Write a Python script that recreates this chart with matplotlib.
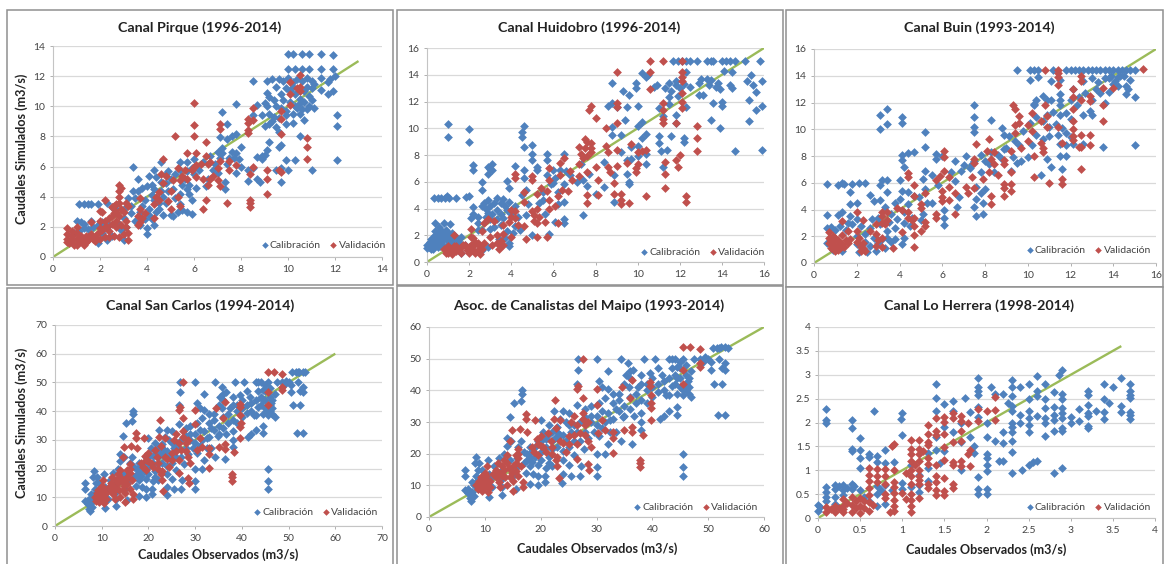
# -*- coding: utf-8 -*-
"""
Caudales observados vs simulados por canal
"""
import matplotlib
matplotlib.use('Agg')
from matplotlib import pyplot as plt
from matplotlib.patches import Rectangle

plt.rcParams['font.family'] = ['Lato', 'DejaVu Sans']

# =============================================================================
# DATA (obs, sim)
# =============================================================================
pirque_cal = [
    (10.0,13.5),(10.2,13.5),(10.6,13.5),(10.9,13.5),(11.4,13.5),(11.9,13.4),
    (10.0,12.5),(10.3,12.5),(10.6,12.5),(10.9,12.5),(11.4,12.5),(11.9,12.5),
    (8.5,11.7),(9.1,11.7),(9.3,11.8),(9.6,11.8),(9.8,11.7),(10.0,11.9),(10.2,11.6),(10.4,11.8),
    (10.6,11.7),(10.8,11.9),(11.0,11.7),(11.1,11.5),(11.4,11.9),(11.7,11.6),(11.8,11.8),(12.0,12.0),
    (11.4,11.1),(11.7,10.8),(11.9,11.0),(9.5,11.3),(9.7,10.8),(9.9,11.2),(10.1,11.0),(10.3,10.8),
    (10.5,10.5),(10.7,11.0),(10.9,10.7),(11.0,11.2),(10.1,10.3),(10.3,10.0),(10.5,10.2),(10.7,10.3),
    (10.9,10.0),(11.1,9.9),(10.8,9.8),(9.5,10.0),(9.7,9.9),(9.9,9.7),(9.1,10.0),(9.0,10.2),(9.2,10.6),
    (9.1,10.9),(8.7,10.1),(8.5,9.4),(8.9,9.4),(9.2,9.5),(9.4,9.3),(9.6,9.2),(9.9,9.4),(10.2,9.5),
    (10.5,9.5),(10.7,9.1),(12.1,9.4),(12.1,8.7),(12.1,6.45),(9.0,8.7),(9.2,8.8),(9.5,8.6),(9.6,8.3),
    (9.9,8.8),(10.2,8.9),(10.5,8.0),(9.2,7.6),(9.1,7.1),(9.0,6.8),(8.9,6.5),(9.6,7.3),(9.7,7.4),
    (9.9,6.45),(10.0,5.8),(10.3,6.45),(9.7,5.9),(9.5,5.8),(9.7,4.95),(11.0,5.8),(7.2,9.6),(7.8,10.15),
    (7.4,8.8),(7.1,7.95),(7.2,7.25),(7.4,7.8),(7.6,8.0),(7.8,8.15),(7.0,7.0),(7.2,6.9),(7.6,7.0),
    (7.8,6.9),(8.0,7.3),(7.7,6.6),(7.9,6.5),(7.4,6.2),(7.8,5.6),(8.3,5.05),(8.3,5.75),(8.5,5.9),
    (8.7,6.65),(8.9,6.7),(8.7,5.2),(8.8,4.95),(7.3,4.95),(7.3,4.5),(7.0,5.6),(6.8,5.8),(6.5,4.7),
    (6.0,6.5),(5.7,6.3),(5.4,6.3),(5.7,5.7),(6.0,5.5),(5.8,4.8),(6.1,4.6),(5.7,4.5),(5.5,4.8),(5.8,4.2),
    (5.9,3.8),(5.5,3.1),(5.3,3.0),(5.7,3.0),(5.9,2.85),(5.0,2.8),(5.1,2.7),(5.2,5.5),(4.9,5.7),(5.0,5.2),
    (4.8,4.9),(5.1,4.5),(4.6,6.3),(4.3,5.8),(4.1,5.35),(4.4,5.3),(4.6,5.0),(4.0,4.7),(4.3,4.5),(4.6,4.4),
    (3.4,6.0),(3.6,5.15),(3.6,4.4),(3.8,4.6),(3.5,3.9),(3.9,3.8),(4.2,4.1),(4.5,3.6),(4.8,3.6),(4.4,3.0),
    (4.7,2.8),(4.2,2.5),(4.3,2.1),(3.9,2.5),(4.0,1.9),(4.0,1.55),(3.7,2.1),(3.5,2.4),(3.3,2.9),(3.0,3.2),
    (3.2,3.9),(3.0,2.6),(2.7,3.2),(2.8,2.2),(3.1,2.0),(2.9,1.8),(3.0,1.1),(2.5,1.4),(2.3,1.15),(2.1,1.6),
    (1.9,0.95),(2.3,3.6),(2.5,3.3),(1.9,3.5),(1.1,3.5),(1.3,3.5),(1.5,3.5),(1.6,3.5),(1.0,2.4),(1.2,2.35),
    (1.3,2.2),(1.6,2.4),(1.3,1.9),(1.5,1.85),(1.7,2.0),(1.9,2.1),(2.1,2.3),(2.4,2.1),(1.1,1.7),(0.9,1.6),
    # zonas densas
    (10.2,11.3),(10.5,11.1),(10.8,11.3),(11.0,10.4),(10.4,9.9),(10.6,9.8),(9.4,10.4),(9.3,9.0),(9.8,10.4),
    (3.3,3.4),(3.7,3.0),(3.4,4.4),(3.8,3.4),(4.1,3.2),(4.3,3.8),(4.7,4.0),(4.9,4.4),(5.2,3.9),(5.4,4.2),
    (5.6,5.2),(5.9,5.9),(6.2,5.8),(6.4,6.3),(6.6,5.2),(6.9,6.2),(7.1,6.6),(6.7,6.7),(7.5,6.6),(8.0,6.0),
    (4.5,3.2),(4.1,2.8),(5.4,3.5),(4.2,4.8),(4.8,5.5),(5.4,5.8),
]
pirque_val = [
    (0.6,1.9),(0.6,1.5),(0.6,1.2),(0.6,1.0),(0.8,1.4),(0.8,1.1),(0.9,0.8),(1.0,2.0),(1.0,1.6),(1.0,1.2),
    (1.0,0.8),(1.2,1.4),(1.2,1.1),(1.3,0.8),(1.4,1.4),(1.5,1.1),(1.6,1.5),(1.6,2.3),(1.8,1.3),(1.8,1.05),
    (1.9,1.6),(2.0,2.4),(2.0,3.05),(2.1,1.8),(2.2,3.75),(2.1,3.0),(2.2,1.3),(2.3,2.0),(2.4,2.6),(2.4,1.7),
    (2.5,3.3),(2.5,2.2),(2.6,2.9),(2.6,1.4),(2.7,3.5),(2.7,2.4),(2.8,4.75),(2.8,4.4),(2.8,4.0),(2.8,3.6),
    (2.8,1.35),(2.9,4.6),(2.9,3.2),(2.9,2.1),(3.1,3.6),(3.1,2.0),(3.2,3.4),(3.2,1.6),(3.2,1.15),(3.7,3.9),
    (3.6,2.1),(3.7,3.2),(3.8,2.6),(3.9,2.9),(4.3,2.6),(4.3,3.5),(4.4,4.0),(4.5,4.3),(4.6,5.5),(4.7,6.5),
    (4.7,4.9),(4.8,5.4),(4.9,3.7),(5.0,4.4),(5.0,3.2),(5.2,8.05),(5.1,5.1),(5.3,5.9),(5.4,5.1),(5.4,3.4),
    (5.3,4.0),(5.6,5.8),(5.7,6.9),(5.7,5.2),(6.0,10.2),(6.0,8.75),(6.0,8.05),(6.1,6.9),(6.0,6.0),(6.3,6.2),
    (6.1,5.3),(6.4,5.2),(6.4,3.2),(6.5,7.6),(6.5,6.7),(6.5,3.75),(6.6,4.8),(6.7,6.3),(6.8,5.4),(7.0,5.9),
    (7.0,5.1),(7.1,8.85),(7.1,8.5),(7.1,6.4),(7.1,4.7),(7.4,3.55),(7.5,6.4),(7.5,5.8),(7.8,6.1),(8.3,8.9),
    (8.3,9.15),(8.3,8.4),(8.3,8.2),(8.4,5.5),(8.4,3.8),(8.4,3.55),(8.4,3.3),(8.5,9.9),(8.5,9.1),(8.5,6.0),
    (9.1,5.75),(9.1,5.2),(9.1,4.2),(9.6,5.8),(9.7,9.7),(9.7,9.15),(9.7,8.15),(9.7,5.65),(10.1,11.6),
    (10.1,10.8),(10.1,10.1),(10.4,11.2),(10.5,12.1),(10.5,11.3),(10.5,11.0),(10.8,7.9),(10.8,7.3),(10.8,6.5),
    # zonas densas
    (0.7,0.9),(1.1,1.0),(1.3,1.2),(1.5,1.3),(1.7,1.2),(2.0,1.2),(2.0,1.9),(2.2,2.4),(2.5,2.7),(2.6,3.4),
    (2.7,2.0),(2.7,3.0),(2.8,2.7),(3.0,3.0),(3.1,2.4),(2.4,1.3),(1.4,1.0),(0.8,1.7),(2.2,2.0),(3.0,1.5),
    (3.7,2.3),(3.6,2.7),(4.5,3.8),(5.5,5.4),(5.9,5.8),(6.1,6.1),(6.6,6.2),(6.7,5.2),
]
huidobro_cal = [
    (1.0,10.3),(1.0,9.35),(2.0,9.95),(2.0,9.0),(0.35,4.75),(0.5,4.75),(0.65,4.8),(0.85,4.75),(0.95,4.9),
    (1.05,4.8),(1.4,4.8),(1.85,4.85),(2.0,4.95),(0.4,2.9),(0.8,2.9),(1.1,2.85),(0.0,1.3),(0.0,1.05),(0.15,1.5),
    (0.2,1.0),(0.3,1.8),(0.3,1.3),(0.4,2.3),(0.45,1.6),(0.5,1.1),(0.55,2.6),(0.6,2.0),(0.65,1.5),(0.7,2.3),
    (0.8,1.8),(0.8,1.2),(0.9,2.1),(1.0,1.6),(1.0,2.2),(1.1,1.9),(1.2,2.2),(1.3,1.7),(1.5,1.5),(1.6,1.9),
    (1.6,0.7),(1.8,1.3),(2.2,7.25),(2.2,6.85),(2.6,6.0),(2.6,5.4),(2.9,7.1),(3.1,7.3),(3.0,6.95),(3.1,6.9),
    (2.9,6.55),(2.2,4.1),(2.2,3.6),(2.1,3.3),(2.4,3.4),(2.4,2.4),(2.7,4.4),(2.8,4.0),(2.9,4.6),(3.0,4.2),
    (3.1,3.6),(3.2,4.4),(3.3,4.8),(3.3,3.9),(3.5,4.4),(3.6,4.7),(3.7,4.2),(3.8,3.9),(3.9,5.5),(3.8,6.05),
    (3.9,4.5),(4.0,3.6),(4.2,4.2),(4.2,2.7),(4.1,2.2),(3.9,1.4),(3.9,1.2),(3.4,1.7),(3.0,2.5),(2.9,1.1),
    (2.6,0.9),(3.5,2.8),(4.2,7.2),(4.6,10.15),(4.5,9.7),(4.5,9.35),(4.6,8.6),(4.6,6.85),(4.6,6.3),(4.5,5.0),
    (4.7,5.4),(4.8,4.3),(4.7,3.5),(5.0,8.75),(5.0,8.1),(5.0,7.6),(5.2,7.1),(5.2,6.9),(5.0,2.0),(5.7,8.1),
    (5.7,7.6),(5.7,6.5),(5.9,5.8),(5.5,4.6),(5.6,3.6),(5.8,2.1),(6.0,6.9),(6.1,6.3),(6.2,4.3),(6.1,3.0),
    (6.3,6.9),(6.5,8.1),(6.5,5.8),(6.5,4.5),(6.5,3.2),(6.5,2.9),(6.6,6.8),(7.1,6.0),(7.3,7.3),(7.4,6.1),
    (7.4,3.55),(7.6,5.7),(7.7,6.6),(8.0,5.05),(8.4,7.5),(8.4,5.6),(8.8,13.4),(8.6,11.7),(8.8,11.9),(9.0,11.6),
    (8.8,10.1),(8.8,9.5),(8.9,6.5),(8.9,4.5),(9.2,9.5),(9.2,8.2),(9.3,12.8),(9.4,10.6),(9.5,7.6),(9.5,6.6),
    (9.6,12.5),(9.5,11.6),(9.7,8.6),(9.7,7.7),(9.6,6.0),(9.6,5.8),(10.0,10.2),(10.0,8.7),(10.0,7.9),(9.9,13.4),
    (9.9,13.0),(10.0,11.7),(10.2,14.1),(10.2,10.5),(10.2,9.3),(10.4,9.6),(10.4,8.1),(10.4,7.3),(10.5,14.0),
    (10.4,13.8),(10.9,13.2),(11.0,11.5),(10.8,13.1),(11.0,9.4),(11.0,8.9),(11.1,8.3),(11.2,10.9),(11.2,7.1),
    (11.3,13.0),(11.4,8.4),(11.5,11.8),(11.5,12.3),(11.5,13.4),(11.6,9.4),(11.7,15.0),(11.9,15.0),(12.1,15.0),
    (12.3,15.0),(12.5,15.0),(12.8,15.0),(13.3,15.0),(13.5,15.0),(13.6,15.0),(14.0,15.0),(14.2,15.0),(14.4,15.0),
    (14.6,15.0),(15.1,15.0),(15.8,15.0),(11.8,13.2),(11.9,12.4),(11.8,11.0),(11.8,10.4),(12.2,13.3),(12.3,14.2),
    (12.5,13.1),(12.3,11.6),(12.2,9.3),(12.2,9.0),(12.9,13.4),(13.0,13.7),(12.9,12.5),(13.1,12.5),(13.3,13.7),
    (13.5,13.6),(13.7,13.1),(13.6,11.9),(13.5,10.6),(13.9,10.0),(14.1,14.3),(13.9,12.9),(14.0,12.0),(14.0,11.7),
    (14.5,14.2),(14.4,13.2),(14.5,13.0),(14.6,8.3),(15.2,13.5),(15.3,12.1),(15.4,14.0),(15.3,10.55),(15.5,13.2),
    (15.6,12.7),(15.6,11.4),(15.9,13.5),(15.9,11.7),(15.9,8.4),
    # zonas densas
    (0.1,1.1),(0.2,1.4),(0.3,1.0),(0.4,1.3),(0.5,1.8),(0.6,1.2),(0.7,1.7),(0.8,2.2),(0.4,2.0),(1.0,1.3),(1.2,1.4),
    (1.4,1.9),(0.2,1.7),(0.5,2.2),(0.9,2.4),(1.1,1.6),(2.6,4.2),(2.8,3.4),(3.0,3.2),(3.2,2.6),(3.3,3.2),(3.5,3.6),
    (2.6,2.4),(2.4,2.9),(2.9,3.7),(3.6,3.3),(4.3,3.4),(4.4,2.4),(3.8,2.3),(3.7,1.8),(5.3,4.4),(5.5,5.2),(6.2,5.2),
    (6.0,5.9),(6.8,6.5),(11.8,13.5),(12.0,13.0),(11.6,12.8),(13.4,13.2),(13.8,13.4),
]
huidobro_val = [
    (0.8,1.0),(0.9,0.7),(1.0,1.2),(1.1,0.9),(1.2,0.6),(1.3,2.0),(1.3,1.2),(1.4,0.8),(1.6,1.1),(1.6,0.7),
    (1.8,1.3),(1.9,0.9),(2.1,2.5),(2.1,1.9),(2.1,1.3),(2.2,0.9),(2.3,1.5),(2.3,0.7),(2.5,1.2),(2.5,0.6),
    (2.6,2.3),(2.7,1.4),(2.7,2.9),(2.9,3.2),(3.0,1.9),(3.1,1.3),(3.2,3.05),(3.3,2.0),(3.4,1.0),(3.5,1.6),
    (3.6,2.1),(3.6,1.3),(3.6,2.8),(3.9,3.0),(4.0,3.9),(4.0,1.9),(4.2,3.8),(4.2,3.3),(4.2,6.6),(4.2,6.3),
    (4.6,5.2),(4.6,4.5),(4.6,2.7),(4.7,1.7),(5.0,6.4),(5.0,6.1),(5.1,3.5),(5.1,3.1),(5.2,5.1),(5.2,4.0),
    (5.2,2.9),(5.2,1.9),(5.4,5.5),(5.6,3.0),(5.7,1.9),(5.7,5.3),(5.8,7.0),(5.8,6.1),(5.8,4.6),(5.8,4.0),
    (6.1,4.2),(6.2,4.9),(6.2,2.95),(6.3,7.4),(6.3,6.5),(6.4,5.4),(6.5,7.8),(6.7,5.3),(6.8,6.8),(6.9,6.1),
    (7.2,8.6),(7.3,8.1),(7.2,7.3),(7.2,6.4),(7.5,9.2),(7.5,8.5),(7.6,9.0),(7.6,7.9),(7.6,6.7),(7.6,5.0),
    (7.6,4.4),(7.8,11.7),(7.7,11.4),(7.8,8.9),(7.8,8.2),(8.0,10.8),(8.0,7.1),(8.1,6.1),(8.1,5.0),(8.5,8.7),
    (8.5,10.0),(8.6,8.2),(8.6,7.1),(8.7,6.7),(8.9,5.9),(8.9,5.1),(9.0,14.2),(9.0,11.9),(9.0,11.6),(9.0,10.4),
    (9.0,8.4),(9.0,7.2),(9.2,5.1),(9.2,4.6),(9.2,4.3),(9.5,7.4),(9.6,4.4),(9.7,8.8),(9.9,7.0),(9.9,6.7),
    (10.0,8.2),(10.2,8.3),(10.0,7.3),(10.4,8.4),(10.4,4.9),(10.6,15.0),(10.6,14.2),(10.6,12.9),(11.2,15.0),
    (11.2,11.9),(11.2,11.4),(11.2,10.7),(11.2,10.4),(11.3,7.5),(11.3,6.6),(11.3,5.5),(11.8,10.4),(11.8,7.6),
    (11.9,7.1),(12.0,8.0),(12.1,15.0),(12.1,14.2),(12.1,13.8),(12.1,13.5),(12.1,12.6),(12.1,12.0),(12.1,11.5),
    (12.3,4.9),(12.3,4.5),(12.8,10.2),(12.8,9.25),(12.8,8.3),
    # zonas densas
    (1.0,0.7),(1.2,1.0),(1.4,1.2),(1.5,0.9),(1.7,1.3),(2.0,1.1),(2.0,0.7),(2.2,1.2),(2.4,0.9),(2.4,1.4),(2.6,1.0),
    (2.2,1.8),(3.3,1.4),(3.5,1.2),(4.0,3.4),(4.3,2.8),(5.0,3.8),(5.3,3.4),(7.8,8.5),(7.4,7.8),
]
buin_cal = [
    (9.5,14.45),(10.1,14.45),(10.3,14.45),(10.5,14.45),(11.2,14.45),(11.8,14.45),(12.0,14.45),(12.2,14.45),
    (12.4,14.45),(12.6,14.45),(12.8,14.45),(13.0,14.45),(13.2,14.45),(13.4,14.45),(13.6,14.45),(13.8,14.45),
    (14.0,14.45),(14.2,14.45),(14.4,14.45),(14.6,14.45),(14.8,14.45),(15.0,14.45),(10.1,13.7),(10.5,13.9),
    (11.1,13.6),(11.5,13.7),(12.6,13.6),(13.0,13.8),(13.3,13.5),(13.6,13.8),(13.9,14.0),(14.1,13.6),(14.3,14.0),
    (14.0,13.4),(13.8,12.8),(14.2,13.2),(14.6,13.2),(14.8,13.7),(14.6,12.6),(14.7,13.0),(15.0,12.4),(12.7,12.7),
    (13.4,12.7),(13.6,12.0),(12.1,13.0),(11.5,12.6),(11.5,12.2),(11.1,12.2),(11.5,11.8),(10.3,11.9),(10.4,12.2),
    (10.7,12.5),(10.9,12.2),(12.3,11.8),(12.6,11.1),(12.9,11.4),(13.0,11.1),(10.3,11.8),(10.4,10.9),(10.7,10.6),
    (10.9,11.1),(11.2,11.3),(11.5,11.1),(11.8,11.2),(11.3,10.4),(11.6,10.1),(11.8,9.7),(12.0,9.4),(11.5,8.9),
    (11.8,8.8),(11.5,8.0),(11.8,8.0),(11.1,7.2),(11.6,7.0),(10.6,6.6),(10.9,7.8),(10.7,9.3),(11.0,9.5),(12.1,8.9),
    (12.6,8.9),(13.5,8.7),(15.0,8.8),(7.5,11.8),(7.5,10.9),(7.5,10.2),(7.5,9.8),(8.3,10.7),(8.8,10.1),(8.9,9.6),
    (9.1,9.5),(9.4,9.1),(9.8,9.9),(10.1,10.5),(10.2,8.8),(10.0,7.9),(9.7,7.6),(9.5,7.5),(9.3,7.9),(9.2,6.9),
    (8.9,8.5),(8.6,8.1),(8.3,8.3),(8.0,7.6),(7.8,8.1),(7.5,7.6),(7.1,8.0),(7.0,7.3),(6.9,6.9),(7.4,7.4),
    (6.6,6.1),(6.8,4.9),(6.7,4.2),(7.6,5.7),(7.8,5.2),(7.6,4.8),(7.5,4.2),(7.6,3.55),(7.9,3.7),(7.9,4.5),(8.0,5.5),
    (6.0,8.0),(5.7,8.15),(5.7,7.8),(5.2,8.65),(5.2,9.8),(4.7,8.3),(4.4,8.25),(4.1,8.1),(4.1,7.7),(4.2,7.2),
    (4.1,10.9),(4.1,10.5),(3.1,11.1),(3.4,11.5),(3.4,10.4),(3.1,10.0),(5.2,6.9),(5.1,6.3),(5.5,6.6),(5.8,5.8),
    (6.1,4.0),(6.1,3.4),(6.1,2.85),(6.4,6.8),(6.6,7.6),(5.3,4.5),(5.5,4.5),(5.1,3.7),(4.9,4.9),(4.7,5.0),
    (4.4,5.3),(4.1,5.4),(4.0,6.2),(3.2,6.2),(3.4,6.2),(3.1,5.8),(3.4,5.3),(0.6,5.9),(1.1,5.85),(1.3,5.95),
    (1.4,5.9),(1.7,5.3),(1.7,4.4),(1.8,5.9),(2.1,6.0),(2.4,6.0),(2.0,4.5),(2.6,5.1),(2.8,4.6),(3.1,4.7),
    (3.3,4.2),(3.8,4.5),(0.6,3.6),(1.1,3.6),(1.3,3.8),(1.7,3.5),(0.6,2.6),(0.8,2.7),(1.0,2.5),(1.2,2.8),
    (1.5,2.5),(1.8,2.9),(2.2,2.8),(2.7,3.3),(3.1,2.9),(3.5,3.1),(3.9,3.3),(4.2,3.0),(4.5,2.8),(4.1,1.4),(4.2,1.9),
    (3.6,1.6),(3.3,1.1),(2.9,0.9),(2.5,0.85),(2.1,0.85),(2.4,1.6),(2.0,2.0),(2.8,1.9),(3.2,1.8),(1.3,0.9),(0.6,1.5),(0.9,1.0),
    # zonas densas
    (1.6,3.0),(2.0,3.3),(2.4,2.2),(2.6,2.6),(3.0,3.4),(3.4,2.4),(3.8,2.6),(3.6,3.7),(4.2,3.8),(4.6,3.4),(4.4,4.4),
    (4.0,4.8),(2.0,1.4),(2.6,1.3),(3.0,1.5),(3.4,1.9),(3.8,1.8),(5.0,3.2),(5.2,5.5),(8.2,7.4),(8.8,7.8),(9.0,8.6),
    (9.6,8.8),(10.4,9.6),(11.0,10.2),(11.4,9.6),(12.0,10.8),(12.4,12.4),(13.2,13.0),(13.0,12.2),(12.0,12.2),
    (14.2,13.9),(13.8,13.8),(14.5,14.0),(8.4,6.8),(7.8,6.8),(7.3,7.1),
]
buin_val = [
    (0.7,2.35),(0.7,1.9),(0.7,1.5),(0.8,1.1),(0.9,2.0),(0.9,1.6),(1.0,1.3),(1.0,0.9),(1.1,1.7),(1.2,1.1),
    (1.3,3.15),(1.3,2.1),(1.3,1.4),(1.6,1.5),(1.6,2.4),(1.7,1.8),(2.0,3.8),(2.0,2.4),(2.0,1.6),(2.2,1.2),
    (2.2,0.9),(2.3,3.2),(2.3,1.5),(2.4,0.9),(2.6,2.4),(2.9,2.9),(2.9,2.2),(2.9,1.3),(3.2,3.8),(3.2,3.0),
    (3.2,1.9),(3.2,1.2),(3.4,3.8),(3.4,3.2),(3.7,1.15),(3.9,4.1),(4.1,4.0),(4.1,2.3),(4.4,6.7),(4.4,6.4),
    (4.4,3.8),(4.4,3.4),(4.7,5.8),(4.7,5.0),(4.7,3.4),(4.7,2.8),(4.7,2.1),(4.7,1.2),(5.0,4.4),(5.0,4.1),
    (5.0,2.4),(5.2,5.2),(5.2,3.1),(5.2,2.8),(5.7,6.2),(5.7,3.7),(5.7,3.4),(5.9,6.5),(6.1,8.35),(6.1,7.9),
    (6.1,6.9),(6.0,5.4),(6.0,4.9),(6.0,4.6),(6.3,6.4),(6.3,5.7),(6.3,4.7),(6.6,5.2),(6.6,3.7),(7.1,5.7),
    (7.2,5.2),(7.4,6.4),(7.5,7.8),(7.5,7.5),(7.5,5.6),(7.6,8.9),(7.9,6.3),(8.1,8.4),(8.2,9.25),(8.3,7.8),
    (8.2,6.8),(8.4,8.3),(8.4,7.4),(8.3,5.0),(8.3,4.4),(8.6,6.6),(8.9,7.7),(8.9,7.4),(8.9,5.9),(8.9,5.6),
    (8.9,5.0),(9.2,8.4),(9.2,6.8),(9.2,5.9),(9.2,5.4),(9.3,11.8),(9.4,11.5),(9.4,10.3),(9.4,9.7),(9.6,11.0),
    (9.6,10.5),(9.7,8.6),(10.0,10.3),(10.0,9.1),(10.2,11.2),(10.2,9.9),(10.3,8.0),(10.3,6.4),(10.6,10.6),
    (10.6,9.0),(10.7,8.6),(10.7,8.3),(10.8,14.45),(10.8,11.8),(10.9,11.0),(10.9,10.2),(11.0,6.0),(11.4,14.45),
    (11.4,14.2),(11.4,13.9),(11.4,13.3),(11.4,10.2),(11.6,9.0),(11.6,6.3),(11.6,5.9),(12.1,13.0),(12.1,12.4),
    (12.1,11.5),(12.1,10.6),(12.1,10.0),(12.1,9.5),(12.1,9.2),(12.4,8.7),(12.5,14.0),(12.5,13.6),(12.5,12.2),
    (12.5,9.6),(12.5,8.7),(12.5,7.05),(12.9,12.5),(12.9,12.1),(12.9,9.6),(12.9,8.8),(13.5,13.1),(13.5,11.8),
    (13.5,10.6),(14.0,13.1),(15.4,14.5),
    # zonas densas
    (0.8,1.7),(0.9,1.3),(1.0,1.9),(1.1,1.2),(1.1,1.0),(1.2,1.5),(1.5,1.7),(1.4,1.2),(2.1,1.9),(2.3,1.1),(3.0,1.7),
    (3.3,2.9),(3.2,3.5),(4.6,3.2),
]
# San Carlos y Maipo comparten practicamente los mismos puntos
maipo_cal = [
    (6.5,15.0),(6.5,12.8),(6.5,8.6),(7.0,7.5),(7.3,6.0),(7.5,5.2),(7.7,8.0),(7.7,11.0),(8.2,17.2),(8.4,19.0),
    (8.5,13.0),(8.7,15.0),(8.7,9.0),(9.0,17.0),(9.5,15.0),(10.5,18.0),(10.7,6.2),(10.8,13.5),(11.3,9.5),(11.7,16.0),
    (12.5,18.5),(13.0,7.0),(13.0,9.5),(13.0,12.0),(13.5,20.0),(14.0,25.0),(14.0,22.5),(14.5,31.5),(14.7,24.0),
    (15.2,36.0),(15.0,13.0),(15.5,9.0),(15.8,18.5),(16.0,22.0),(16.7,40.2),(16.7,39.0),(16.5,36.5),(16.5,24.0),
    (17.0,20.5),(17.3,14.0),(17.5,18.0),(18.0,10.5),(18.0,16.0),(18.5,21.0),(18.7,13.5),(19.5,10.0),(19.5,13.0),
    (19.5,16.5),(20.0,20.5),(20.0,30.5),(20.8,11.0),(20.8,13.0),(21.0,15.5),(21.5,19.0),(21.3,26.0),(21.5,29.0),
    (22.0,24.0),(22.0,16.0),(22.3,33.5),(23.0,28.5),(23.0,22.0),(23.5,26.0),(23.9,10.8),(24.0,13.5),(24.0,18.0),
    (24.0,33.5),(24.5,30.0),(25.0,16.5),(25.0,33.0),(25.5,27.0),(25.5,12.8),(26.0,19.5),(26.5,27.0),(26.5,35.5),
    (26.5,42.0),(26.7,46.5),(26.7,50.0),(27.0,13.0),(27.2,16.0),(27.7,21.5),(28.0,31.5),(28.5,25.0),(29.0,35.0),
    (29.5,27.0),(30.0,50.0),(30.0,19.8),(30.0,15.8),(30.0,13.0),(30.5,43.0),(30.5,25.5),(31.0,33.5),(31.5,37.5),
    (31.5,19.8),(32.0,46.0),(32.0,40.5),(32.0,23.0),(32.5,30.5),(33.0,36.0),(33.5,27.0),(34.0,33.5),(34.3,50.0),
    (34.3,24.0),(34.8,31.5),(35.3,45.0),(35.7,48.5),(35.8,41.0),(36.0,34.0),(36.3,23.2),(36.5,46.5),(36.7,32.0),
    (37.5,41.0),(38.0,37.0),(38.0,45.0),(38.0,27.5),(38.0,30.0),(38.5,50.0),(39.0,42.0),(39.5,45.5),(40.0,41.0),
    (40.5,50.0),(41.0,39.5),(41.3,31.0),(41.7,45.0),(42.0,32.0),(42.5,38.5),(43.0,50.0),(43.0,33.5),(43.5,41.5),
    (44.0,50.0),(44.5,47.5),(44.5,34.8),(44.5,32.3),(45.0,44.0),(45.5,50.0),(45.5,19.8),(45.5,15.8),(45.5,13.0),
    (46.0,48.0),(46.3,43.0),(46.5,41.0),(46.5,39.0),(47.0,38.0),(46.0,40.0),(45.5,38.5),(47.5,50.0),(48.5,50.0),
    (49.5,50.5),(50.5,46.5),(50.8,53.5),(51.0,42.0),(51.5,53.5),(51.8,32.3),(52.0,50.0),(52.3,53.8),(52.5,42.0),
    (52.5,47.0),(53.0,53.8),(53.0,32.3),(53.0,48.5),(53.0,46.5),(53.5,53.5),
    # zonas densas
    (9.0,12.0),(10.0,10.0),(11.0,12.0),(12.0,14.0),(13.0,15.0),(14.5,18.0),(16.0,16.0),(17.0,17.0),(18.0,19.0),
    (19.0,22.0),(20.0,24.0),(20.5,27.0),(21.0,22.0),(22.0,27.0),(23.0,25.0),(23.5,31.0),(24.5,24.0),(25.0,29.0),
    (26.0,24.0),(27.0,30.0),(28.0,27.0),(29.0,30.0),(30.0,32.0),(31.0,28.0),(32.0,33.0),(33.0,31.0),(33.0,39.0),
    (34.0,37.0),(35.0,35.0),(36.0,38.0),(36.0,44.0),(37.0,36.0),(38.0,33.0),(39.0,40.0),(40.0,44.0),(41.0,42.0),
    (42.0,40.0),(43.0,44.0),(43.5,47.0),(44.0,42.0),(44.5,39.0),(45.0,41.0),(45.0,47.0),(46.0,45.0),(49.0,49.0),
    (7.0,9.0),(7.5,7.0),(8.0,6.5),(8.0,10.0),(8.5,11.0),(17.5,20.0),(18.0,22.0),(18.5,17.5),(19.0,19.0),(19.5,24.0),
    (20.0,18.0),(21.0,24.5),(21.5,17.0),(22.0,21.5),(22.5,25.0),(23.0,27.0),(24.0,26.0),(24.0,21.0),(25.0,22.0),
    (26.0,29.0),(27.0,24.0),(28.0,34.0),(29.0,32.0),(30.0,29.0),(30.5,36.0),(31.0,41.0),(31.5,30.0),(32.5,27.0),
    (33.5,34.0),(34.0,39.0),(35.0,42.0),(35.0,32.0),(36.0,46.0),(37.0,39.0),(38.0,42.0),(39.0,36.0),(40.0,38.0),
    (41.0,47.0),(42.0,43.0),(43.0,38.5),(43.5,50.0),(44.0,45.0),(45.0,49.0),(46.0,42.0),(46.5,44.0),(47.0,46.0),
    (45.5,40.0),(44.5,44.0),(50.0,50.0),(50.5,49.0),(52.0,53.5),
]
maipo_val = [
    (8.5,10.0),(8.7,8.8),(9.0,11.5),(9.5,8.2),(9.5,10.0),(10.0,14.0),(10.0,12.0),(10.0,9.5),(10.3,16.0),(10.5,11.0),
    (10.5,8.0),(11.0,9.5),(12.0,12.5),(12.0,15.0),(12.3,17.0),(12.5,11.0),(12.8,9.5),(13.5,15.0),(13.7,12.5),
    (14.0,19.5),(14.0,17.0),(14.0,10.0),(14.5,24.0),(14.8,27.5),(14.8,14.0),(15.0,11.5),(15.0,8.3),(15.5,17.0),
    (15.5,14.5),(16.0,21.5),(16.0,18.5),(16.3,27.7),(16.5,16.0),(16.8,11.0),(16.8,9.5),(17.3,32.5),(17.3,30.8),
    (17.5,27.0),(18.5,22.0),(19.0,30.5),(19.3,24.5),(19.5,19.5),(20.0,25.5),(20.5,22.0),(21.0,20.5),(21.3,26.5),
    (21.8,24.0),(22.0,20.0),(22.3,31.0),(22.5,37.0),(22.7,28.0),(22.7,18.0),(23.0,16.0),(23.2,12.3),(23.5,30.5),
    (24.0,23.5),(24.5,20.5),(25.0,25.5),(25.5,30.0),(26.0,32.0),(26.5,23.0),(26.5,18.3),(26.5,40.5),(26.7,41.5),
    (27.0,26.5),(27.5,50.0),(27.5,37.5),(27.5,33.0),(28.0,29.0),(28.5,24.0),(28.5,16.7),(28.7,15.0),(29.0,22.0),
    (30.0,35.5),(30.0,40.5),(30.3,26.5),(31.0,30.5),(31.5,27.5),(33.0,27.0),(33.0,25.0),(33.0,20.2),(34.5,41.0),
    (35.0,27.5),(36.0,37.5),(36.3,43.2),(36.3,28.5),(36.3,26.8),(37.8,18.0),(37.8,17.0),(37.8,15.7),(38.3,25.8),
    (39.5,42.5),(39.5,41.5),(39.7,38.5),(39.8,36.0),(39.7,34.5),(39.7,30.7),(45.5,53.7),(46.8,53.7),(48.5,53.0),
    (45.5,46.5),(45.5,42.0),(48.5,48.5),(48.5,47.5),
    # zonas densas
    (9.0,9.5),(9.3,12.5),(9.8,11.0),(10.2,13.0),(10.5,9.5),(11.0,11.5),(11.5,13.5),(12.5,14.0),(13.0,16.0),(13.0,13.0),
    (13.5,18.0),(14.3,15.5),(14.5,12.5),(15.0,16.0),(15.5,19.5),(16.0,13.0),(16.0,20.0),(18.8,20.5),(19.5,23.0),(20.0,22.5),
    (22.0,22.0),(23.0,19.0),(23.5,24.0),(25.0,23.0),(26.0,26.0),(26.5,29.0),(27.5,31.0),(28.5,30.0),(28.0,26.0),
]
herrera_cal = [
    (0.0,0.27),(0.0,0.15),(0.02,0.22),(0.1,0.65),(0.1,0.55),(0.1,0.45),(0.1,0.35),(0.1,2.29),(0.1,2.05),(0.1,2.0),
    (0.2,0.7),(0.2,0.6),(0.2,0.45),(0.2,0.3),(0.25,0.68),(0.3,0.7),(0.3,0.58),(0.3,0.48),(0.35,0.62),(0.4,0.72),
    (0.4,0.6),(0.4,2.06),(0.4,1.88),(0.4,1.44),(0.4,1.4),(0.43,0.68),(0.5,1.68),(0.5,1.42),(0.5,1.26),(0.5,1.04),
    (0.5,0.58),(0.55,0.45),(0.6,1.35),(0.6,1.27),(0.6,0.35),(0.66,2.25),(0.7,1.29),(0.7,1.17),(0.7,0.68),(0.7,0.5),
    (0.7,0.25),(0.75,0.58),(0.8,1.43),(0.8,1.15),(0.8,0.7),(0.8,0.3),(0.88,0.58),(0.9,1.18),(1.0,2.2),(0.98,2.07),
    (1.0,1.73),(1.0,0.73),(1.0,0.6),(1.1,1.1),(1.1,0.65),(1.2,0.7),(1.2,0.55),(1.2,0.9),(1.3,1.36),(1.3,1.05),
    (1.3,0.78),(1.4,2.81),(1.4,2.51),(1.4,2.24),(1.4,1.7),(1.4,1.43),(1.45,1.15),(1.5,1.4),(1.5,1.9),(1.5,2.38),
    (1.6,2.45),(1.6,2.25),(1.6,1.8),(1.7,1.99),(1.7,1.6),(1.7,1.0),(1.75,2.51),(1.8,2.22),(1.8,1.7),(1.85,1.5),
    (1.85,1.36),(1.9,2.93),(1.9,2.74),(1.9,2.65),(1.9,2.58),(1.9,2.32),(1.9,2.12),(1.9,0.85),(1.9,0.6),(1.9,0.5),
    (2.0,2.0),(2.0,1.7),(2.0,1.35),(2.0,1.25),(2.0,1.1),(2.0,0.98),(2.0,0.6),(2.0,0.5),(2.05,2.75),(2.1,2.6),
    (2.1,1.62),(2.15,1.2),(2.2,2.6),(2.2,1.8),(2.2,1.58),(2.2,1.2),(2.25,2.4),(2.3,2.9),(2.3,2.74),(2.3,2.55),
    (2.3,2.35),(2.3,2.24),(2.3,2.0),(2.3,1.9),(2.3,1.8),(2.3,1.62),(2.3,1.39),(2.3,0.94),(2.4,2.74),(2.4,2.15),
    (2.4,2.0),(2.42,1.01),(2.5,2.8),(2.5,2.5),(2.5,2.25),(2.5,2.1),(2.5,1.95),(2.5,1.8),(2.5,1.1),(2.55,1.18),
    (2.6,2.98),(2.6,2.65),(2.6,2.55),(2.6,2.13),(2.6,1.19),(2.7,2.8),(2.7,2.5),(2.7,2.3),(2.7,2.1),(2.7,2.0),
    (2.7,1.72),(2.8,2.63),(2.8,2.33),(2.8,2.15),(2.8,2.05),(2.8,1.82),(2.8,0.94),(2.86,2.99),(2.9,3.09),(2.9,2.6),
    (2.9,2.5),(2.9,2.3),(2.9,2.2),(2.9,2.1),(2.9,1.88),(2.9,1.82),(2.9,1.04),(3.0,2.12),(3.0,2.0),(3.1,2.29),(3.1,2.04),
    (3.2,2.65),(3.2,2.58),(3.2,2.36),(3.2,2.2),(3.2,2.13),(3.2,1.93),(3.2,1.88),(3.3,2.25),(3.4,2.81),(3.4,2.5),
    (3.4,2.22),(3.4,2.07),(3.45,2.4),(3.5,2.74),(3.6,2.93),(3.6,2.34),(3.6,2.22),(3.7,2.8),(3.7,2.65),(3.7,2.58),
    (3.7,2.52),(3.7,2.22),(3.7,2.15),(3.7,2.08),
]
herrera_val = [
    (0.1,0.22),(0.1,0.12),(0.2,0.25),(0.2,0.12),(0.25,0.2),(0.3,0.4),(0.3,0.25),(0.3,0.12),(0.35,0.32),(0.4,0.43),
    (0.4,0.28),(0.4,0.12),(0.5,0.42),(0.5,0.25),(0.5,0.1),(0.55,0.35),(0.6,1.04),(0.6,0.9),(0.6,0.78),(0.6,0.62),
    (0.6,0.48),(0.6,0.33),(0.6,0.15),(0.7,1.03),(0.7,0.88),(0.7,0.75),(0.8,1.03),(0.8,0.88),(0.8,0.72),(0.8,0.5),
    (0.8,0.42),(0.85,0.12),(0.88,1.5),(0.9,1.55),(0.9,1.0),(0.9,0.75),(0.9,0.65),(0.9,0.52),(0.9,0.38),(0.9,0.25),
    (0.9,0.15),(1.0,0.52),(1.05,0.4),(1.05,0.95),(1.1,1.64),(1.1,1.45),(1.1,1.33),(1.1,1.2),(1.1,1.0),(1.1,0.88),
    (1.1,0.5),(1.1,0.38),(1.1,0.25),(1.1,0.12),(1.2,1.64),(1.2,1.45),(1.2,1.33),(1.2,1.2),(1.2,1.0),(1.2,0.88),
    (1.2,0.72),(1.2,0.42),(1.3,1.95),(1.3,1.75),(1.3,1.6),(1.3,1.52),(1.3,1.25),(1.3,1.14),(1.3,0.72),(1.3,0.62),
    (1.4,2.09),(1.4,1.83),(1.4,1.73),(1.4,1.1),(1.4,0.88),(1.4,0.75),(1.4,0.58),(1.4,0.48),(1.5,2.12),(1.5,2.02),
    (1.5,1.75),(1.5,1.48),(1.5,1.22),(1.5,0.83),(1.5,0.56),(1.5,0.48),(1.6,2.2),(1.6,2.1),(1.6,1.6),(1.6,1.18),
    (1.6,1.12),(1.6,0.72),(1.6,0.63),(1.7,2.13),(1.7,2.03),(1.7,1.82),(1.7,1.62),(1.7,1.19),(1.7,1.09),(1.78,2.0),
    (1.78,1.35),(1.8,1.43),(1.8,1.09),(1.9,2.29),(1.9,2.03),(2.0,2.25),(2.1,2.54),(2.1,2.27),(2.1,2.05),
    # zonas densas
    (0.15,0.18),(0.3,0.18),(0.45,0.2),(0.45,0.35),(0.55,0.2),(0.65,0.28),(1.15,1.1),(1.25,1.4),(1.1,0.72),(1.2,0.8),
]

panels = ['Canal Pirque (1996-2014)', 'Canal Huidobro (1996-2014)', 'Canal Buin (1993-2014)',
          'Canal San Carlos (1994-2014)', 'Asoc. de Canalistas del Maipo (1993-2014)', 'Canal Lo Herrera (1998-2014)']
cal_data = [pirque_cal, huidobro_cal, buin_cal, maipo_cal, maipo_cal, herrera_cal]
val_data = [pirque_val, huidobro_val, buin_val, maipo_val, maipo_val, herrera_val]
ax_max = [14, 16, 16, 70, 60, 4]
ax_step = [2, 2, 2, 10, 10, 0.5]
line_end = [13, 16, 16, 60, 60, 3.6]

# =============================================================================
# LAYOUT (pixels)
# =============================================================================
W, H = 1164, 564
# left, right, top, bottom of plot area
boxes = [(53, 382, 46, 257), (427, 764, 48, 262), (814, 1156, 49, 263),
         (55, 382, 325, 526), (429, 764, 327, 517), (818, 1155, 327, 518)]
# left, right, top, bottom of the grey frame
frames = [(7, 393, 10, 285), (397, 783, 10, 285), (786, 1163, 10, 287),
          (7, 393, 288, 566), (397, 783, 286, 566), (786, 1163, 287, 566)]
legend_pos = [(1.012, 0.057), (1.003, 0.047), (0.985, 0.06), (0.988, 0.07), (0.982, 0.053), (0.988, 0.058)]
title_x = [200, 589, 979, 200, 589, 979]
title_y = [28, 28, 28, 306, 306, 306]
xlabel_x = [None, None, None, 218, 597, 986]
xlabel_y = [None, None, None, 555, 549, 550]

fig = plt.figure(figsize=(W/100, H/100), dpi=100, facecolor='white')

for i in range(6):
    fl, fr, ft, fb = frames[i]
    fig.add_artist(Rectangle((fl/W, 1-fb/H), (fr-fl)/W, (fb-ft)/H, transform=fig.transFigure,
                             fc='white', ec='#8f8f8f', lw=1.1, zorder=-1))

    l, r, t, b = boxes[i]
    ax = fig.add_axes([l/W, 1-b/H, (r-l)/W, (b-t)/H])
    ax.set_facecolor('none')
    ax.plot([0, line_end[i]], [0, line_end[i]], color='#9BBB59', lw=1.7, zorder=2, solid_capstyle='butt')

    cx, cy = zip(*cal_data[i])
    vx, vy = zip(*val_data[i])
    ax.scatter(cx, cy, marker='D', s=20, color='#4F81BD', lw=0, zorder=3, clip_on=False, label='Calibración')
    ax.scatter(vx, vy, marker='D', s=20, color='#C0504D', lw=0, zorder=4, clip_on=False, label='Validación')

    ax.set_xlim(0, ax_max[i])
    ax.set_ylim(0, ax_max[i])
    n = int(round(ax_max[i]/ax_step[i]))
    ticks = [k*ax_step[i] for k in range(n+1)]
    labels = [('%g' % v) for v in ticks]
    ax.set_xticks(ticks, labels)
    ax.set_yticks(ticks, labels)
    ax.tick_params(labelsize=7.5, colors='#444444', length=2.5, width=0.7, color='#b0b0b0', pad=3)
    ax.grid(axis='y', color='#d9d9d9', lw=0.9, zorder=0)
    ax.set_axisbelow(True)
    for s in ['top', 'right']:
        ax.spines[s].set_visible(False)
    for s in ['left', 'bottom']:
        ax.spines[s].set_color('#c4c4c4')
        ax.spines[s].set_linewidth(0.8)

    leg = ax.legend(loc='center right', bbox_to_anchor=legend_pos[i], ncol=2, frameon=False, fontsize=7.5,
                    handletextpad=-0.1, columnspacing=0.6, borderpad=0, borderaxespad=0, handlelength=1.2,
                    labelcolor='#444444', scatterpoints=1, markerscale=0.75)
    leg.set_zorder(6)

    fig.text(title_x[i]/W, 1-title_y[i]/H, panels[i], ha='center', va='center',
             fontsize=10.3, fontweight='bold', color='#222222')
    if xlabel_y[i]:
        fig.text(xlabel_x[i]/W, 1-xlabel_y[i]/H, 'Caudales Observados (m3/s)', ha='center', va='center',
                 fontsize=9.1, fontweight='bold', color='#222222')
    if i in (0, 3):
        fig.text(22/W, 1-(t+b-6)/2/H, 'Caudales Simulados (m3/s)', rotation=90, ha='center', va='center',
                 fontsize=9.1, fontweight='bold', color='#222222')

fig.savefig('out.png', dpi=100)
